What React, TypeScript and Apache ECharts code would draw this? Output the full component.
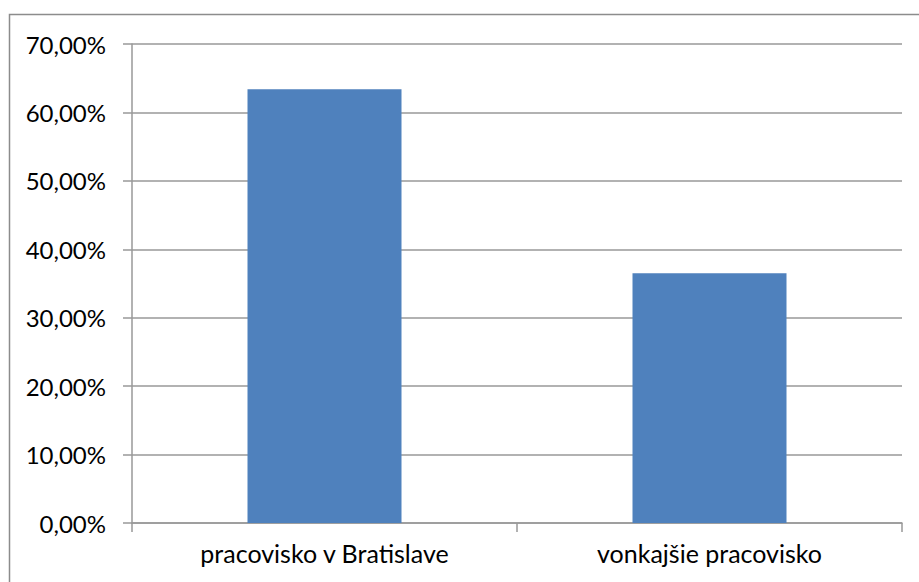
import React, { useEffect, useRef } from "react";
import * as echarts from "echarts";

const categories = ["pracovisko v Bratislave", "vonkajšie pracovisko"];
const values = [63.4, 36.5];
const yTicks = [0, 10, 20, 30, 40, 50, 60, 70];

export default function App() {
  const ref = useRef<HTMLDivElement>(null);
  useEffect(() => {
    document.body.style.margin = "0";
    const chart = echarts.init(ref.current!, null, { renderer: "svg" });
    const font = "Lato, 'Open Sans', sans-serif";
    chart.setOption({
      animation: false,
      backgroundColor: "#ffffff",
      graphic: [
        {
          type: "rect",
          shape: { x: 9.5, y: 14.5, width: 960, height: 620 },
          style: { fill: "none", stroke: "#8c8c8c", lineWidth: 1.5 },
          silent: true,
        },
      ],
      grid: { left: 132, right: 17, top: 44, bottom: 59, containLabel: false },
      xAxis: {
        type: "category",
        data: categories,
        axisLine: { show: true, lineStyle: { color: "#999999", width: 1.5 } },
        axisTick: { show: true, alignWithLabel: false, length: 9, lineStyle: { color: "#999999", width: 1.5 } },
        axisLabel: { color: "#000000", fontFamily: font, fontSize: 25, margin: 17 },
      },
      yAxis: {
        type: "value",
        min: yTicks[0],
        max: yTicks[yTicks.length - 1],
        interval: 10,
        axisLine: { show: true, lineStyle: { color: "#999999", width: 1.5 } },
        axisTick: { show: true, length: 9, lineStyle: { color: "#999999", width: 1.5 } },
        splitLine: { show: true, lineStyle: { color: "#999999", width: 1.5 } },
        axisLabel: {
          color: "#000000",
          fontFamily: font,
          fontSize: 24,
          margin: 26,
          formatter: (v: number) => v.toFixed(2).replace(".", ",") + "%",
        },
      },
      series: [
        {
          type: "bar",
          data: values,
          barWidth: "40%",
          itemStyle: { color: "#4f81bd" },
        },
      ],
    });
    return () => chart.dispose();
  }, []);
  return <div ref={ref} style={{ width: 919, height: 582 }} />;
}
